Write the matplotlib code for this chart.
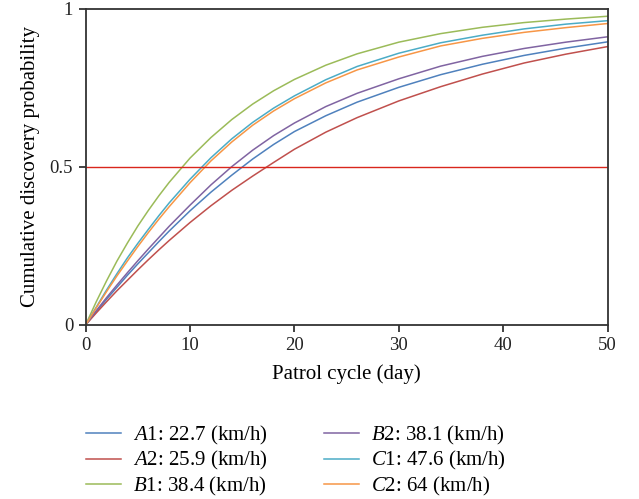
import matplotlib
matplotlib.use("Agg")
import matplotlib.pyplot as plt

plt.rcParams['font.family'] = ['Liberation Serif', 'DejaVu Serif']
plt.rcParams['mathtext.fontset'] = 'custom'
plt.rcParams['mathtext.rm'] = 'Liberation Serif'
plt.rcParams['mathtext.it'] = 'Liberation Serif:italic'

# patrol cycle (days) and cumulative discovery probability
days = [0, 1, 2, 3, 4, 5, 6, 7, 8, 10, 12, 14, 16, 18, 20, 23, 26, 30, 34, 38, 42, 46, 50]
A1 = [0, 0.041, 0.081, 0.119, 0.157, 0.193, 0.228, 0.263, 0.297, 0.361, 0.420, 0.474,
      0.525, 0.571, 0.612, 0.662, 0.705, 0.752, 0.792, 0.825, 0.853, 0.876, 0.896]
A2 = [0, 0.037, 0.073, 0.108, 0.141, 0.174, 0.206, 0.237, 0.267, 0.324, 0.377, 0.426,
      0.471, 0.514, 0.556, 0.610, 0.656, 0.709, 0.754, 0.794, 0.829, 0.857, 0.881]
B1 = [0, 0.072, 0.139, 0.202, 0.259, 0.313, 0.362, 0.408, 0.451, 0.528, 0.593, 0.650,
      0.699, 0.741, 0.777, 0.822, 0.858, 0.895, 0.922, 0.942, 0.957, 0.968, 0.977]
B2 = [0, 0.044, 0.086, 0.126, 0.165, 0.203, 0.240, 0.276, 0.312, 0.379, 0.443, 0.501,
      0.553, 0.599, 0.639, 0.691, 0.733, 0.779, 0.819, 0.850, 0.875, 0.895, 0.912]
C1 = [0, 0.055, 0.110, 0.162, 0.212, 0.258, 0.302, 0.345, 0.386, 0.461, 0.529, 0.589,
      0.641, 0.686, 0.725, 0.776, 0.818, 0.860, 0.893, 0.917, 0.937, 0.952, 0.963]
C2 = [0, 0.053, 0.105, 0.155, 0.202, 0.248, 0.292, 0.334, 0.374, 0.450, 0.519, 0.579,
      0.632, 0.677, 0.716, 0.766, 0.807, 0.848, 0.883, 0.907, 0.926, 0.941, 0.954]
threshold = 0.5

series = [
    (A1, r'$A$1: 22.7 (km/h)', '#4F81BD'),
    (A2, r'$A$2: 25.9 (km/h)', '#C0504D'),
    (B1, r'$B$1: 38.4 (km/h)', '#9BBB59'),
    (B2, r'$B$2: 38.1 (km/h)', '#8064A2'),
    (C1, r'$C$1: 47.6 (km/h)', '#4BACC6'),
    (C2, r'$C$2: 64 (km/h)', '#F79646'),
]

fig = plt.figure(figsize=(6.39, 4.99), dpi=100)
ax = fig.add_axes([0.134, 0.349, 0.817, 0.633])

for vals, lab, col in series:
    ax.plot(days, vals, color=col, lw=1.1, label=lab)
ax.axhline(threshold, color='#D9261C', lw=1.0)

ax.set_xlim(0, 50)
ax.set_ylim(0, 1)
ax.set_xticks([0, 10, 20, 30, 40, 50])
ax.set_yticks([0, 0.5, 1])
ax.set_yticklabels(['0', '0.5', '1'])
ax.tick_params(direction='out', length=5, width=1.2, labelsize=13.5, colors='#222222', pad=4)
for s in ax.spines.values():
    s.set_linewidth(1.3)
    s.set_color('#333333')

ax.set_xlabel('Patrol cycle (day)', fontsize=15, labelpad=7)
ax.set_ylabel('Cumulative discovery probability', fontsize=15, labelpad=7)

ax.legend(ncol=2, loc='upper left', bbox_to_anchor=(0.0, -0.313), frameon=False,
          borderpad=0, borderaxespad=0, fontsize=15, handlelength=1.7,
          handletextpad=0.55, columnspacing=2.7, labelspacing=0.13)

fig.savefig('out.png', dpi=100)
